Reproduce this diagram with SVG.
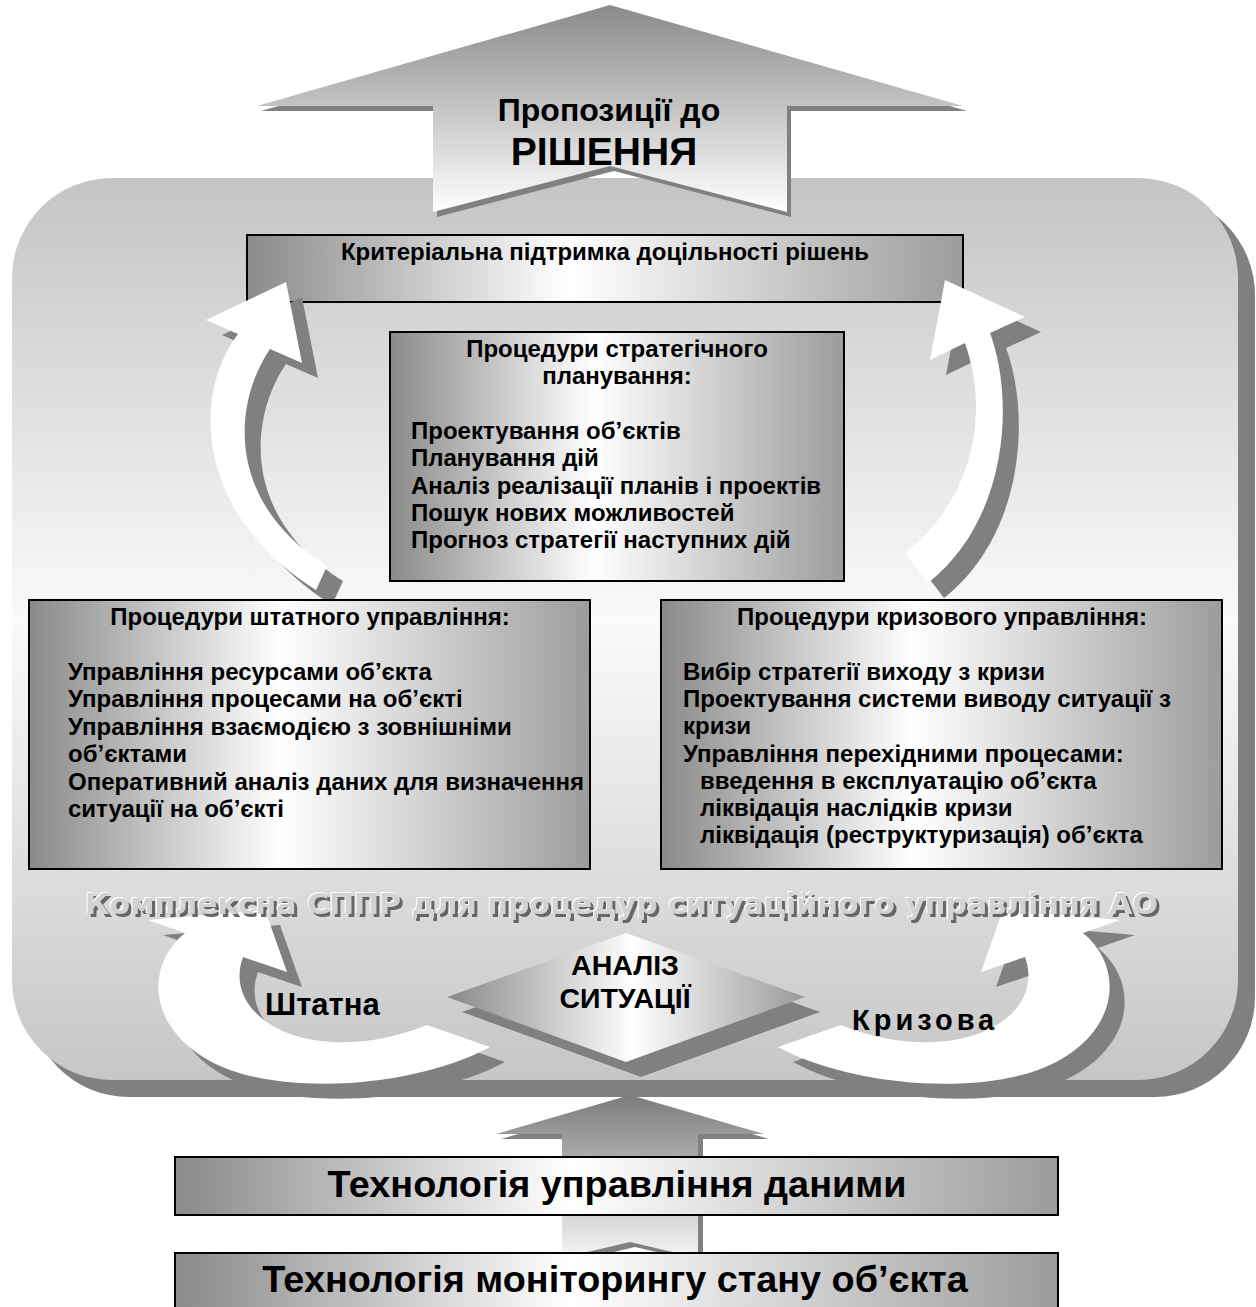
<svg xmlns="http://www.w3.org/2000/svg" xmlns:xlink="http://www.w3.org/1999/xlink" width="1256" height="1307" viewBox="0 0 1256 1307">
<style>
.t{font-family:"Liberation Sans",Arial,sans-serif;font-weight:bold;fill:#000}
.box{fill:url(#gBox);stroke:#000;stroke-width:2}
.sh{fill:#808080}
.wh{fill:#ffffff}
.body{font-size:24px}
</style>
<defs>
<linearGradient id="gPanel" gradientUnits="userSpaceOnUse" x1="0" y1="178" x2="0" y2="1080">
<stop offset="0" stop-color="#c4c4c4"/><stop offset="0.49" stop-color="#fafafa"/><stop offset="1" stop-color="#c6c6c6"/>
</linearGradient>
<linearGradient id="gBox" x1="0" y1="0" x2="1" y2="0">
<stop offset="0" stop-color="#8a8a8a"/><stop offset="0.45" stop-color="#ffffff"/><stop offset="1" stop-color="#9c9c9c"/>
</linearGradient>
<linearGradient id="gTop" gradientUnits="userSpaceOnUse" x1="0" y1="5" x2="0" y2="212">
<stop offset="0" stop-color="#8a8a8a"/><stop offset="1" stop-color="#ffffff"/>
</linearGradient>
<linearGradient id="gBottom" gradientUnits="userSpaceOnUse" x1="0" y1="1095" x2="0" y2="1258">
<stop offset="0" stop-color="#7c7c7c"/><stop offset="1" stop-color="#f6f6f6"/>
</linearGradient>
<linearGradient id="gDiamond" x1="0" y1="0" x2="1" y2="0">
<stop offset="0" stop-color="#888888"/><stop offset="0.52" stop-color="#ffffff"/><stop offset="1" stop-color="#999999"/>
</linearGradient>
<filter id="emboss" x="-2%" y="-40%" width="104%" height="180%">
<feOffset in="SourceAlpha" dx="2.5" dy="2.5" result="o1"/>
<feFlood flood-color="#666666"/><feComposite in2="o1" operator="in" result="sh"/>
<feOffset in="SourceAlpha" dx="-1" dy="-1" result="o2"/>
<feFlood flood-color="#ffffff"/><feComposite in2="o2" operator="in" result="hl"/>
<feMerge><feMergeNode in="sh"/><feMergeNode in="hl"/><feMergeNode in="SourceGraphic"/></feMerge>
</filter>
<path id="pTopArrow" d="M610,5 L963,106 L787,106 L787,212 L610,166 L433,212 L433,106 L257,106 Z"/>
<path id="pArcL" d="M286,282 L302,363 L270,349 C235,400 222,500 327,566 L316,590 C190,510 195,390 238,334 L206,320 Z"/>
<path id="pArcR" d="M945,280 L1025,317 L990,333 C1015,400 1008,520 928,583 L905,553 C968,505 992,420 965,343 L930,360 Z"/>
<path id="pLoop" d="M265,910 L287,972 L243,957 C220,1020 315,1070 427,1025 L490,1047 C420,1085 300,1095 230,1070 C150,1040 140,970 185,933 L148,920 Z"/>
<path id="pUp" d="M630,1095 L764,1134 L698,1134 L698,1258 L630,1242 L562,1258 L562,1134 L496,1134 Z"/>
<path id="pDiamond" d="M626,933 L805,997 L626,1062 L447,997 Z"/>
</defs>

<g id="panel">
<rect x="29" y="195" width="1226" height="902" rx="100" class="sh"/>
<rect x="12" y="178" width="1226" height="902" rx="100" fill="url(#gPanel)"/>
</g>

<g id="decision">
<use xlink:href="#pTopArrow" href="#pTopArrow" transform="translate(4,5)" class="sh"/>
<use xlink:href="#pTopArrow" href="#pTopArrow" fill="url(#gTop)"/>
<text class="t" x="609" y="121" font-size="32" text-anchor="middle">Пропозиції до</text>
<text class="t" x="604" y="165" font-size="39" text-anchor="middle">РІШЕННЯ</text>
</g>

<g id="criteria">
<rect x="247" y="235" width="716" height="67" class="box"/>
<text class="t" x="605" y="260" font-size="24" text-anchor="middle">Критеріальна підтримка доцільності рішень</text>
</g>

<g id="strategic">
<rect x="390" y="332" width="454" height="249" class="box"/>
<text class="t body" x="617" y="357" text-anchor="middle">Процедури стратегічного</text>
<text class="t body" x="617" y="384" text-anchor="middle">планування:</text>
<text class="t body" x="411" y="439">Проектування об’єктів</text>
<text class="t body" x="411" y="466">Планування дій</text>
<text class="t body" x="411" y="494">Аналіз реалізації планів і проектів</text>
<text class="t body" x="411" y="521">Пошук нових можливостей</text>
<text class="t body" x="411" y="548">Прогноз стратегії наступних дій</text>
</g>

<g id="connectors">
<use xlink:href="#pArcL" href="#pArcL" transform="translate(16,15)" class="sh"/>
<use xlink:href="#pArcL" href="#pArcL" class="wh"/>
<use xlink:href="#pArcR" href="#pArcR" transform="translate(16,15)" class="sh"/>
<use xlink:href="#pArcR" href="#pArcR" class="wh"/>
<use xlink:href="#pLoop" href="#pLoop" transform="translate(15,15)" class="sh"/>
<use xlink:href="#pLoop" href="#pLoop" class="wh"/>
<use xlink:href="#pLoop" href="#pLoop" transform="translate(1283,15) scale(-1,1)" class="sh"/>
<use xlink:href="#pLoop" href="#pLoop" transform="translate(1268,0) scale(-1,1)" class="wh"/>
<use xlink:href="#pUp" href="#pUp" transform="translate(5,5)" class="sh"/>
<use xlink:href="#pUp" href="#pUp" fill="url(#gBottom)"/>
</g>

<g id="regular">
<rect x="29" y="600" width="561" height="269" class="box"/>
<text class="t body" x="310" y="625" text-anchor="middle">Процедури штатного управління:</text>
<text class="t body" x="68" y="680">Управління ресурсами об’єкта</text>
<text class="t body" x="68" y="707">Управління процесами на об’єкті</text>
<text class="t body" x="68" y="735">Управління взаємодією з зовнішніми</text>
<text class="t body" x="68" y="762">об’єктами</text>
<text class="t body" x="68" y="790">Оперативний аналіз даних для визначення</text>
<text class="t body" x="68" y="817">ситуації на об’єкті</text>
</g>

<g id="crisis">
<rect x="661" y="600" width="561" height="269" class="box"/>
<text class="t body" x="942" y="625" text-anchor="middle">Процедури кризового управління:</text>
<text class="t body" x="683" y="680">Вибір стратегії виходу з кризи</text>
<text class="t body" x="683" y="707">Проектування системи виводу ситуації з</text>
<text class="t body" x="683" y="734">кризи</text>
<text class="t body" x="683" y="762">Управління перехідними процесами:</text>
<text class="t body" x="700" y="789">введення в експлуатацію об’єкта</text>
<text class="t body" x="700" y="816">ліквідація наслідків кризи</text>
<text class="t body" x="700" y="843">ліквідація (реструктуризація) об’єкта</text>
</g>

<g id="system-title">
<text x="85" y="914" font-family="DejaVu Sans, sans-serif" font-weight="bold" font-size="29" fill="#d2d2d2" textLength="1073" lengthAdjust="spacingAndGlyphs" filter="url(#emboss)">Комплексна СППР для процедур ситуаційного управління АО</text>
</g>

<g id="loop-labels">
<text class="t" x="265" y="1015" font-size="31">Штатна</text>
<text class="t" x="852" y="1030" font-size="29" letter-spacing="4">Кризова</text>
</g>

<g id="analysis">
<use xlink:href="#pDiamond" href="#pDiamond" transform="translate(15,15)" class="sh"/>
<use xlink:href="#pDiamond" href="#pDiamond" fill="url(#gDiamond)"/>
<text class="t" x="625" y="975" font-size="28.5" text-anchor="middle">АНАЛІЗ</text>
<text class="t" x="625" y="1008" font-size="28.5" text-anchor="middle">СИТУАЦІЇ</text>
</g>

<g id="data-management">
<rect x="175" y="1157" width="883" height="58" class="box"/>
<text class="t" x="617" y="1197" font-size="37.8" text-anchor="middle">Технологія управління даними</text>
</g>

<g id="monitoring">
<rect x="175" y="1253" width="883" height="62" class="box"/>
<text class="t" x="615" y="1292" font-size="37.8" text-anchor="middle">Технологія моніторингу стану об’єкта</text>
</g>
</svg>
